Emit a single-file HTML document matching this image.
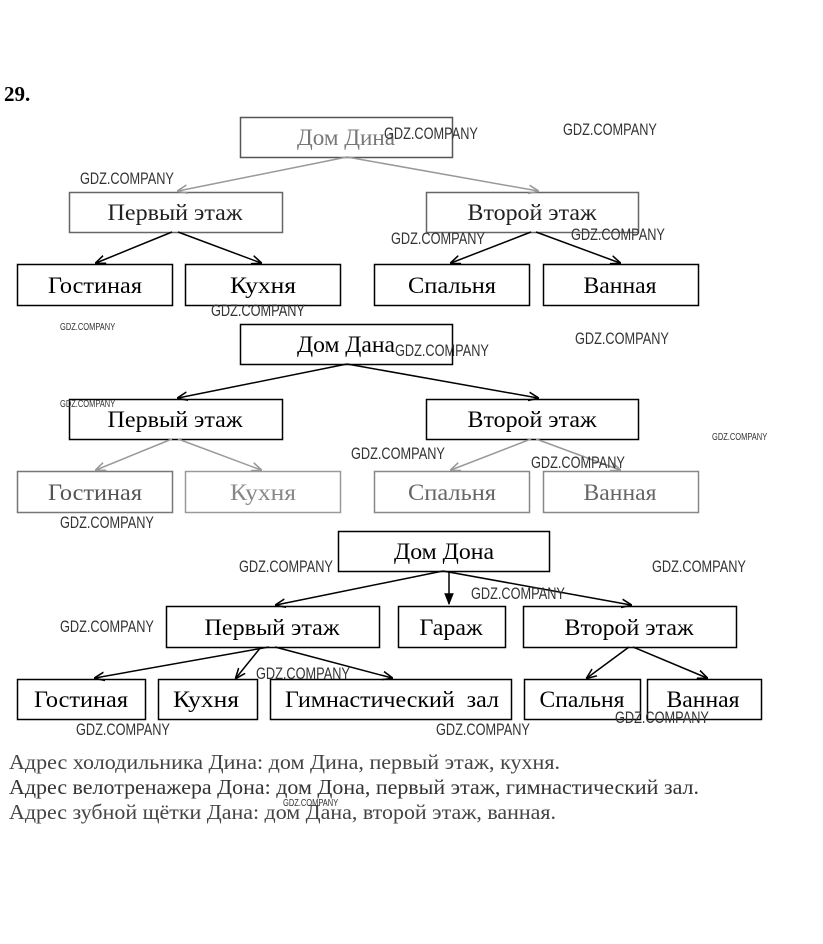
<!DOCTYPE html>
<html><head><meta charset="utf-8"><style>
html,body{margin:0;padding:0;background:#fff;width:823px;height:944px;overflow:hidden}
svg{display:block}
.t{font-family:"Liberation Serif","DejaVu Serif",serif;font-size:23px;fill:#000;text-anchor:middle}
.w{font-family:"Liberation Sans",sans-serif;fill:#333;font-size:17px}
.ws{font-family:"Liberation Sans",sans-serif;fill:#333;font-size:10px}
</style></head><body>
<svg width="823" height="944" viewBox="0 0 823 944" xmlns="http://www.w3.org/2000/svg">
<defs>
<marker id="a" viewBox="0 0 10 10" refX="9" refY="5" markerWidth="7" markerHeight="7" orient="auto-start-reverse"><path d="M0,1 L10,5 L0,9" fill="none" stroke="#000" stroke-width="1.5"/></marker>
<marker id="ag" viewBox="0 0 10 10" refX="9" refY="5" markerWidth="7" markerHeight="7" orient="auto-start-reverse"><path d="M0,1 L10,5 L0,9" fill="none" stroke="#999" stroke-width="1.5"/></marker>
<marker id="af" viewBox="0 0 10 10" refX="9" refY="5" markerWidth="8" markerHeight="8" orient="auto"><path d="M0,1 L10,5 L0,9 z" fill="#000"/></marker>
</defs>
<text x="4" y="101" style="font-family:'Liberation Serif',serif;font-weight:bold;font-size:21px">29.</text>

<g fill="none" stroke="#000" stroke-width="1.5">
<rect x="240.5" y="117.5" width="212" height="40" stroke="#555"/>
<rect x="69.5" y="192.5" width="213" height="40" stroke="#666"/>
<rect x="426.5" y="192.5" width="212" height="40" stroke="#666"/>
<rect x="17.5" y="264.5" width="155" height="41"/>
<rect x="185.5" y="264.5" width="155" height="41"/>
<rect x="374.5" y="264.5" width="155" height="41"/>
<rect x="543.5" y="264.5" width="155" height="41"/>
<line x1="347" y1="157" x2="178" y2="191" stroke="#999" marker-end="url(#ag)"/>
<line x1="347" y1="157" x2="538" y2="191" stroke="#999" marker-end="url(#ag)"/>
<line x1="172" y1="232" x2="96" y2="263" marker-end="url(#a)"/>
<line x1="178" y1="232" x2="261" y2="263" marker-end="url(#a)"/>
<line x1="531" y1="232" x2="451" y2="263" marker-end="url(#a)"/>
<line x1="536" y1="232" x2="620" y2="263" marker-end="url(#a)"/>
<rect x="240.5" y="324.5" width="212" height="40"/>
<rect x="69.5" y="399.5" width="213" height="40"/>
<rect x="426.5" y="399.5" width="212" height="40"/>
<rect x="17.5" y="471.5" width="155" height="41" stroke="#777"/>
<rect x="185.5" y="471.5" width="155" height="41" stroke="#999"/>
<rect x="374.5" y="471.5" width="155" height="41" stroke="#888"/>
<rect x="543.5" y="471.5" width="155" height="41" stroke="#888"/>
<line x1="347" y1="364" x2="178" y2="398" marker-end="url(#a)"/>
<line x1="347" y1="364" x2="538" y2="398" marker-end="url(#a)"/>
<line x1="172" y1="439" x2="96" y2="470" stroke="#999" marker-end="url(#ag)"/>
<line x1="178" y1="439" x2="261" y2="470" stroke="#999" marker-end="url(#ag)"/>
<line x1="531" y1="439" x2="451" y2="470" stroke="#999" marker-end="url(#ag)"/>
<line x1="536" y1="439" x2="620" y2="470" stroke="#999" marker-end="url(#ag)"/>
<rect x="338.5" y="531.5" width="211" height="40"/>
<rect x="166.5" y="606.5" width="213" height="41"/>
<rect x="398.5" y="606.5" width="107" height="41"/>
<rect x="523.5" y="606.5" width="213" height="41"/>
<rect x="17.5" y="679.5" width="128" height="40"/>
<rect x="158.5" y="679.5" width="99" height="40"/>
<rect x="270.5" y="679.5" width="241" height="40"/>
<rect x="524.5" y="679.5" width="116" height="40"/>
<rect x="647.5" y="679.5" width="114" height="40"/>
<line x1="443" y1="571" x2="276" y2="605" marker-end="url(#a)"/>
<line x1="449" y1="571" x2="449" y2="604" marker-end="url(#af)"/>
<line x1="443" y1="571" x2="631" y2="605" marker-end="url(#a)"/>
<line x1="269" y1="647" x2="95" y2="678" marker-end="url(#a)"/>
<line x1="261" y1="647" x2="236" y2="678" marker-end="url(#a)"/>
<line x1="275" y1="647" x2="392" y2="678" marker-end="url(#a)"/>
<line x1="629" y1="647" x2="587" y2="678" marker-end="url(#a)"/>
<line x1="633" y1="647" x2="707" y2="678" marker-end="url(#a)"/>
</g>

<g lengthAdjust="spacingAndGlyphs">
<text class="t" x="346" y="145" textLength="98" lengthAdjust="spacingAndGlyphs" style="fill:#777">Дом Дина</text>
<text class="t" x="175" y="220" textLength="135" lengthAdjust="spacingAndGlyphs" style="fill:#222">Первый этаж</text>
<text class="t" x="532" y="220" textLength="129" lengthAdjust="spacingAndGlyphs" style="fill:#222">Второй этаж</text>
<text class="t" x="95" y="293" textLength="94" lengthAdjust="spacingAndGlyphs">Гостиная</text>
<text class="t" x="263" y="293" textLength="66" lengthAdjust="spacingAndGlyphs">Кухня</text>
<text class="t" x="452" y="293" textLength="88" lengthAdjust="spacingAndGlyphs">Спальня</text>
<text class="t" x="620" y="293" textLength="73" lengthAdjust="spacingAndGlyphs">Ванная</text>

<text class="t" x="346" y="352" textLength="98" lengthAdjust="spacingAndGlyphs">Дом Дана</text>
<text class="t" x="175" y="427" textLength="135" lengthAdjust="spacingAndGlyphs">Первый этаж</text>
<text class="t" x="532" y="427" textLength="129" lengthAdjust="spacingAndGlyphs">Второй этаж</text>
<text class="t" x="95" y="500" textLength="94" lengthAdjust="spacingAndGlyphs" style="fill:#555">Гостиная</text>
<text class="t" x="263" y="500" textLength="66" lengthAdjust="spacingAndGlyphs" style="fill:#888">Кухня</text>
<text class="t" x="452" y="500" textLength="88" lengthAdjust="spacingAndGlyphs" style="fill:#666">Спальня</text>
<text class="t" x="620" y="500" textLength="73" lengthAdjust="spacingAndGlyphs" style="fill:#666">Ванная</text>

<text class="t" x="444" y="559" textLength="100" lengthAdjust="spacingAndGlyphs">Дом Дона</text>
<text class="t" x="272" y="635" textLength="135" lengthAdjust="spacingAndGlyphs">Первый этаж</text>
<text class="t" x="451" y="635" textLength="63" lengthAdjust="spacingAndGlyphs">Гараж</text>
<text class="t" x="629" y="635" textLength="129" lengthAdjust="spacingAndGlyphs">Второй этаж</text>
<text class="t" x="81" y="707" textLength="94" lengthAdjust="spacingAndGlyphs">Гостиная</text>
<text class="t" x="206" y="707" textLength="66" lengthAdjust="spacingAndGlyphs">Кухня</text>
<text class="t" x="392" y="707" textLength="214" lengthAdjust="spacingAndGlyphs">Гимнастический&#160; зал</text>
<text class="t" x="582" y="707" textLength="85" lengthAdjust="spacingAndGlyphs">Спальня</text>
<text class="t" x="703" y="707" textLength="73" lengthAdjust="spacingAndGlyphs">Ванная</text>
</g>

<g style="font-family:'Liberation Serif',serif;font-size:21px;fill:#333">
<text x="9" y="769" textLength="551" lengthAdjust="spacingAndGlyphs" style="fill:#444">Адрес холодильника Дина: дом Дина, первый этаж, кухня.</text>
<text x="9" y="794" textLength="690" lengthAdjust="spacingAndGlyphs" style="fill:#333">Адрес велотренажера Дона: дом Дона, первый этаж, гимнастический зал.</text>
<text x="9" y="819" textLength="547" lengthAdjust="spacingAndGlyphs" style="fill:#444">Адрес зубной щётки Дана: дом Дана, второй этаж, ванная.</text>
</g>

<g class="w">
<text x="384" y="139" transform="translate(384,0) scale(0.75,1) translate(-384,0)">GDZ.COMPANY</text>
<text x="563" y="135" transform="translate(563,0) scale(0.75,1) translate(-563,0)">GDZ.COMPANY</text>
<text x="80" y="184" transform="translate(80,0) scale(0.75,1) translate(-80,0)">GDZ.COMPANY</text>
<text x="391" y="244" transform="translate(391,0) scale(0.75,1) translate(-391,0)">GDZ.COMPANY</text>
<text x="571" y="240" transform="translate(571,0) scale(0.75,1) translate(-571,0)">GDZ.COMPANY</text>
<text x="211" y="316" transform="translate(211,0) scale(0.75,1) translate(-211,0)">GDZ.COMPANY</text>
<text x="395" y="356" transform="translate(395,0) scale(0.75,1) translate(-395,0)">GDZ.COMPANY</text>
<text x="575" y="344" transform="translate(575,0) scale(0.75,1) translate(-575,0)">GDZ.COMPANY</text>
<text x="351" y="459" transform="translate(351,0) scale(0.75,1) translate(-351,0)">GDZ.COMPANY</text>
<text x="531" y="468" transform="translate(531,0) scale(0.75,1) translate(-531,0)">GDZ.COMPANY</text>
<text x="60" y="528" transform="translate(60,0) scale(0.75,1) translate(-60,0)">GDZ.COMPANY</text>
<text x="239" y="572" transform="translate(239,0) scale(0.75,1) translate(-239,0)">GDZ.COMPANY</text>
<text x="652" y="572" transform="translate(652,0) scale(0.75,1) translate(-652,0)">GDZ.COMPANY</text>
<text x="471" y="599" transform="translate(471,0) scale(0.75,1) translate(-471,0)">GDZ.COMPANY</text>
<text x="60" y="632" transform="translate(60,0) scale(0.75,1) translate(-60,0)">GDZ.COMPANY</text>
<text x="256" y="679" transform="translate(256,0) scale(0.75,1) translate(-256,0)">GDZ.COMPANY</text>
<text x="615" y="723" transform="translate(615,0) scale(0.75,1) translate(-615,0)">GDZ.COMPANY</text>
<text x="76" y="735" transform="translate(76,0) scale(0.75,1) translate(-76,0)">GDZ.COMPANY</text>
<text x="436" y="735" transform="translate(436,0) scale(0.75,1) translate(-436,0)">GDZ.COMPANY</text>
</g>
<g class="ws">
<text x="60" y="330" transform="translate(60,0) scale(0.75,1) translate(-60,0)">GDZ.COMPANY</text>
<text x="60" y="407" transform="translate(60,0) scale(0.75,1) translate(-60,0)">GDZ.COMPANY</text>
<text x="712" y="440" transform="translate(712,0) scale(0.75,1) translate(-712,0)">GDZ.COMPANY</text>
<text x="283" y="806" transform="translate(283,0) scale(0.75,1) translate(-283,0)">GDZ.COMPANY</text>
</g>
</svg>
</body></html>
